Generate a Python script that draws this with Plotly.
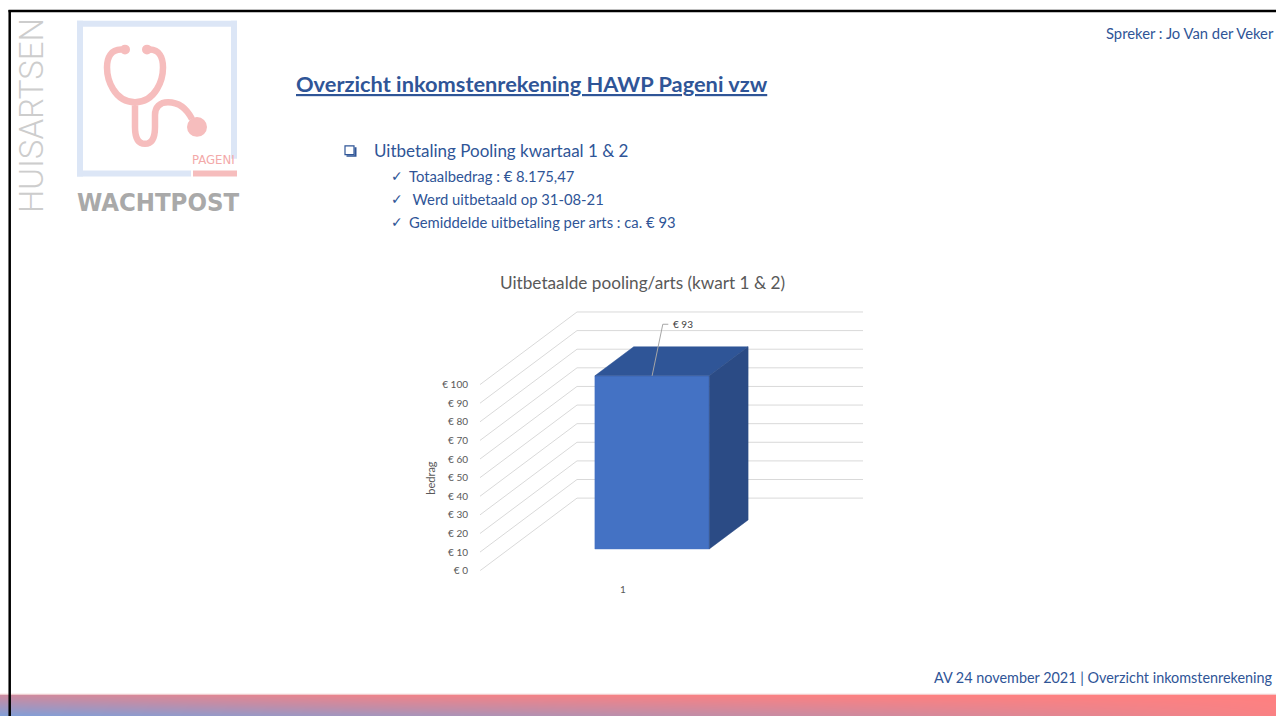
import plotly.graph_objects as go

# ---- chart data -------------------------------------------------------------
categories = [1]
payout_per_doctor = [93]
tick_values = [0, 10, 20, 30, 40, 50, 60, 70, 80, 90, 100]
tick_labels = [f"€ {v}" for v in tick_values]
data_labels = [f"€ {v}" for v in payout_per_doctor]

chart_title = "Uitbetaalde pooling/arts (kwart 1 & 2)"
axis_title = "bedrag"

slide_title = "Overzicht inkomstenrekening HAWP Pageni vzw"
bullet_main = "Uitbetaling Pooling kwartaal 1 & 2"
bullet_items = [
    "Totaalbedrag : € 8.175,47",
    " Werd uitbetaald op 31-08-21",
    "Gemiddelde uitbetaling per arts : ca. € 93",
]
speaker = "Spreker : Jo Van der Veker"
footer = "AV 24 november 2021 | Overzicht inkomstenrekening"

# ---- page geometry ----------------------------------------------------------
W, H = 1276, 722
FONT = "Lato, 'Open Sans', sans-serif"
BLUE_TXT = "#2F5597"
GREY_TXT = "#595959"


def px(x):
    return x / W


def py(y):
    return 1 - y / H


# plot area of the 3-D column chart (front wall left edge .. back wall right edge)
X0_PX, X1_PX = 480, 863
Y0_PX = 575.5          # value 0 on the front plane
PX_PER_UNIT_Y = 1.877
Y_MAX = 140
PX_PER_UNIT_X = 286

x_range = [0.5, 0.5 + (X1_PX - X0_PX) / PX_PER_UNIT_X]
y_range = [0, Y_MAX]

# oblique depth offset (full depth of the chart box)
DX = 97 / PX_PER_UNIT_X
DY = 73.2 / PX_PER_UNIT_Y


def proj(x, v, d):
    return x + d * DX, v + d * DY


fig = go.Figure()

# gridlines: floor-to-wall diagonals plus back-wall horizontals
gx, gy = [], []
for v in tick_values:
    for (x, d) in [(0.5, 0), (0.5, 1), (1.5, 1)]:
        a, b = proj(x, v, d)
        gx.append(a)
        gy.append(b)
    gx.append(None)
    gy.append(None)
fig.add_trace(go.Scatter(x=gx, y=gy, mode="lines",
                         line=dict(color="#d9d9d9", width=1),
                         hoverinfo="skip", showlegend=False))

# 3-D columns
BAR_W = 0.4
D_FRONT, D_BACK = 0.3, 0.7
for cat, val in zip(categories, payout_per_doctor):
    xa, xb = cat - BAR_W / 2, cat + BAR_W / 2
    faces = [
        ([(xa, 0, D_FRONT), (xb, 0, D_FRONT), (xb, val, D_FRONT), (xa, val, D_FRONT)], "#4472C4"),
        ([(xa, val, D_FRONT), (xb, val, D_FRONT), (xb, val, D_BACK), (xa, val, D_BACK)], "#2F5597"),
        ([(xb, 0, D_FRONT), (xb, 0, D_BACK), (xb, val, D_BACK), (xb, val, D_FRONT)], "#2B4B85"),
    ]
    for pts, col in faces:
        xs, ys = zip(*[proj(*p) for p in pts])
        fig.add_trace(go.Scatter(x=list(xs) + [xs[0]], y=list(ys) + [ys[0]],
                                 mode="lines", fill="toself", fillcolor=col,
                                 line=dict(color=col, width=0.5),
                                 hoverinfo="skip", showlegend=False))

annotations = []
shapes = []

# data label with leader line
for cat, val, lab in zip(categories, payout_per_doctor, data_labels):
    sx, sy = proj(cat, val, D_FRONT)
    ex, ey = sx + 10.7 / PX_PER_UNIT_X, sy + 52 / PX_PER_UNIT_Y
    fig.add_trace(go.Scatter(x=[sx, ex, ex + 5.5 / PX_PER_UNIT_X],
                             y=[sy, ey, ey], mode="lines",
                             line=dict(color="#a6a6a6", width=1),
                             hoverinfo="skip", showlegend=False))
    annotations.append(dict(x=ex + 8 / PX_PER_UNIT_X, y=ey, xref="x", yref="y",
                            text=lab, showarrow=False, xanchor="left", yanchor="middle",
                            font=dict(family=FONT, size=10, color="#404040")))

# bottom gradient band (heatmap smoothed across a coarse colour grid)
band_x = [0, 400, 900, W]
band_z = [[0.0, 0.28, 0.62, 0.95],
          [0.6, 0.88, 1.0, 1.0]]
fig.add_trace(go.Heatmap(x=band_x, y=[0, 1], z=band_z, zsmooth="best",
                         colorscale=[[0, "#7FA0DA"], [0.5, "#C28EA8"], [1, "#FF8080"]],
                         zmin=0, zmax=1, showscale=False, hoverinfo="skip",
                         xaxis="x2", yaxis="y2"))


def note(x, y, text, size, color, family=FONT, xanchor="left", **kw):
    font = dict(family=family, size=size, color=color)
    for k in ("weight", "lineposition"):
        if k in kw:
            font[k] = kw.pop(k)
    annotations.append(dict(x=px(x), y=py(y), xref="paper", yref="paper", text=text,
                            showarrow=False, xanchor=xanchor, yanchor="middle",
                            font=font, **kw))


# ---- logo -------------------------------------------------------------------
FRAME = "#DCE6F6"
PINK = "#F6BDBD"
for (xa, ya, xb, yb) in [(77, 21, 83, 178), (77, 21, 237, 27),
                         (231, 21, 237, 160), (77, 172, 191, 178)]:
    shapes.append(dict(type="rect", xref="paper", yref="paper",
                       x0=px(xa), x1=px(xb), y0=py(yb), y1=py(ya),
                       fillcolor=FRAME, line=dict(width=0), layer="below"))
shapes.append(dict(type="rect", xref="paper", yref="paper",
                   x0=px(193), x1=px(237), y0=py(178), y1=py(172),
                   fillcolor=PINK, line=dict(width=0)))


def path_px(cmds):
    out = []
    for c in cmds:
        if isinstance(c, str):
            out.append(c)
        else:
            out.append(f"{px(c[0]):.5f},{py(c[1]):.5f}")
    return " ".join(out)


steth = path_px([
    "M", (121, 50), "C", (111, 50), (107, 58), (107, 68),
    "C", (107, 80), (114, 103), (135, 103),
    "C", (156, 103), (163, 80), (163, 68),
    "C", (163, 58), (159, 50), (150, 50),
    "M", (135, 103), "L", (135, 128),
    "C", (135, 140), (139, 145), (145, 145),
    "C", (151, 145), (155, 140), (155, 128),
    "L", (155, 116),
    "C", (155, 108), (160, 103), (168, 103),
    "C", (178, 103), (186, 108), (192, 120),
])
shapes.append(dict(type="path", xref="paper", yref="paper", path=steth,
                   line=dict(color=PINK, width=6.5)))
for (cx, cy, r) in [(125, 50, 5), (147, 50, 5), (197, 128, 10)]:
    shapes.append(dict(type="circle", xref="paper", yref="paper",
                       x0=px(cx - r), x1=px(cx + r), y0=py(cy + r), y1=py(cy - r),
                       fillcolor=PINK, line=dict(width=0)))

NARROW = "'Liberation Sans Narrow', 'DejaVu Sans Condensed', sans-serif"
note(31, 117, "HUISARTSEN", 33, "#cdcdcd", family="Roboto, sans-serif",
     xanchor="center", weight=300, textangle=-90)
note(158, 204, "WACHTPOST", 25.5, "#a9a9a9", family=NARROW, xanchor="center", weight="bold")
note(237, 161, "PAGENI", 13, "#F3A9A9", family=NARROW, xanchor="right")

# ---- slide texts ------------------------------------------------------------
note(294, 84, slide_title, 21.8, BLUE_TXT, weight="bold", lineposition="under")

# square bullet
shapes.append(dict(type="rect", xref="paper", yref="paper",
                   x0=px(345), x1=px(354), y0=py(156), y1=py(147),
                   line=dict(color=BLUE_TXT, width=1.2), fillcolor="white"))
shapes.append(dict(type="path", xref="paper", yref="paper",
                   path=path_px(["M", (354.5, 148.5), "L", (356.5, 148.5), "L", (356.5, 158),
                                 "L", (346.5, 158), "L", (346.5, 156.5), "L", (354.5, 156.5), "Z"]),
                   fillcolor=BLUE_TXT, line=dict(width=0)))
note(372, 152, bullet_main, 17, BLUE_TXT)
for i, item in enumerate(bullet_items):
    yc = 177 + i * 23.5
    note(389, yc, "✓", 14, BLUE_TXT, family="DejaVu Sans")
    note(407, yc, item, 14.8, BLUE_TXT)

note(1276, 33, speaker, 14.8, BLUE_TXT, xanchor="right")
note(1275, 683, footer, 14.4, BLUE_TXT, xanchor="right")

# chart title and value axis title
note(642, 285, chart_title, 17.2, GREY_TXT, xanchor="center")
annotations.append(dict(x=px(431), xref="paper", y=50, yref="y", text=axis_title,
                        textangle=-90, showarrow=False, xanchor="center", yanchor="middle",
                        font=dict(family=FONT, size=11, color=GREY_TXT)))

# slide frame lines and band edge
shapes.append(dict(type="line", xref="paper", yref="paper",
                   x0=px(0), x1=px(W), y0=py(700), y1=py(700),
                   line=dict(color="#f3d6d6", width=1)))
shapes.append(dict(type="line", xref="paper", yref="paper",
                   x0=px(8.5), x1=px(W), y0=py(11), y1=py(11),
                   line=dict(color="black", width=2.5)))
shapes.append(dict(type="line", xref="paper", yref="paper",
                   x0=px(9.7), x1=px(9.7), y0=py(10), y1=py(H),
                   line=dict(color="black", width=2.5)))

fig.update_layout(
    width=W, height=H,
    margin=dict(l=0, r=0, t=0, b=0),
    paper_bgcolor="white", plot_bgcolor="rgba(0,0,0,0)",
    showlegend=False,
    xaxis=dict(domain=[px(X0_PX), px(X1_PX)], range=x_range,
               tickvals=categories, ticktext=[str(c) for c in categories],
               showgrid=False, zeroline=False, showline=False,
               ticks="outside", ticklen=9, tickcolor="rgba(0,0,0,0)",
               tickfont=dict(family=FONT, size=10, color=GREY_TXT),
               fixedrange=True),
    yaxis=dict(domain=[py(Y0_PX), py(Y0_PX - Y_MAX * PX_PER_UNIT_Y)], range=y_range,
               tickvals=tick_values, ticktext=tick_labels,
               showgrid=False, zeroline=False, showline=False,
               ticks="outside", ticklen=9, tickcolor="rgba(0,0,0,0)",
               tickfont=dict(family=FONT, size=10, color=GREY_TXT),
               fixedrange=True),
    xaxis2=dict(domain=[0, 1], range=[0, W], visible=False, anchor="y2", fixedrange=True),
    yaxis2=dict(domain=[0, 22 / H], range=[0, 1], visible=False, anchor="x2", fixedrange=True),
    shapes=shapes,
    annotations=annotations,
)

fig.write_html("out.html")
